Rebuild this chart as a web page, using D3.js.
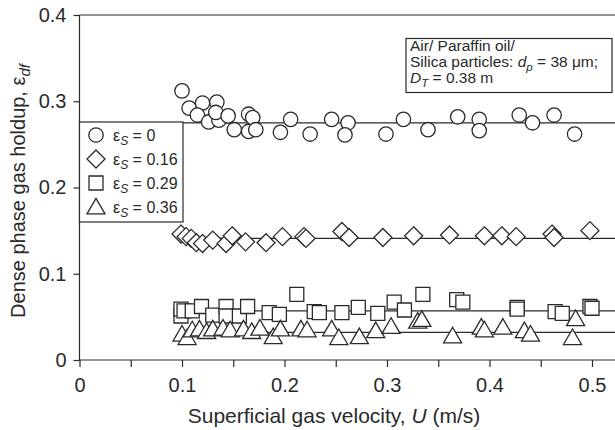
<!DOCTYPE html>
<html><head><meta charset="utf-8">
<script src="https://cdn.jsdelivr.net/npm/d3@7"></script>
<style>body{margin:0;background:#fff}svg{display:block;font-family:"Liberation Sans",Arial,sans-serif}</style>
</head><body><svg id="c" width="615" height="430"></svg>
<script>
// Data (U in m/s, dense phase gas holdup)
const circlesU = [0.100,0.107,0.120,0.115,0.134,0.126,0.136,0.133,0.145,0.151,0.165,0.169,0.165,0.172,0.196,0.206,0.225,0.246,0.262,0.259,0.299,0.316,0.340,0.369,0.390,0.390,0.429,0.442,0.463,0.483];
const circlesV = [0.312,0.292,0.298,0.284,0.299,0.276,0.278,0.287,0.283,0.267,0.285,0.281,0.265,0.267,0.264,0.279,0.262,0.279,0.275,0.261,0.262,0.279,0.267,0.282,0.279,0.266,0.284,0.275,0.284,0.262];
const diamondsU = [0.099,0.104,0.109,0.114,0.120,0.130,0.143,0.149,0.162,0.182,0.198,0.219,0.221,0.256,0.263,0.296,0.326,0.361,0.395,0.412,0.426,0.461,0.463,0.498];
const diamondsV = [0.146,0.143,0.141,0.136,0.135,0.139,0.135,0.144,0.137,0.136,0.143,0.143,0.141,0.149,0.142,0.142,0.144,0.145,0.144,0.144,0.143,0.146,0.142,0.150];
const squaresU = [0.099,0.099,0.102,0.110,0.119,0.130,0.143,0.143,0.156,0.164,0.185,0.195,0.212,0.229,0.234,0.256,0.272,0.291,0.307,0.317,0.335,0.368,0.374,0.427,0.427,0.464,0.471,0.498,0.500];
const squaresV = [0.051,0.059,0.057,0.057,0.062,0.052,0.062,0.051,0.051,0.062,0.055,0.053,0.076,0.056,0.055,0.055,0.061,0.054,0.067,0.058,0.076,0.070,0.067,0.061,0.059,0.056,0.054,0.062,0.060];
const trianglesU = [0.100,0.105,0.110,0.117,0.124,0.130,0.140,0.147,0.160,0.168,0.176,0.189,0.196,0.216,0.222,0.246,0.253,0.273,0.289,0.304,0.330,0.334,0.364,0.392,0.395,0.413,0.434,0.440,0.481,0.484];
const trianglesV = [0.030,0.026,0.035,0.036,0.033,0.036,0.037,0.035,0.036,0.033,0.037,0.027,0.036,0.036,0.035,0.036,0.026,0.027,0.034,0.039,0.045,0.047,0.028,0.038,0.035,0.038,0.034,0.030,0.026,0.048];
const fitLevels = [0.275, 0.141, 0.057, 0.032];
const legendLabels = ["0", "0.16", "0.29", "0.36"];
const xTicks = [0, 0.1, 0.2, 0.3, 0.4, 0.5];
const xMinorTicks = [0.05, 0.15, 0.25, 0.35, 0.45];
const yTicks = [0, 0.1, 0.2, 0.3, 0.4];

const svg = d3.select("#c");
const x = d3.scaleLinear().domain([0, 0.5]).range([79.5, 592]);
const y = d3.scaleLinear().domain([0, 0.4]).range([360, 15]);
const ink = "#2a2a2a";

const shapes = {
  circle: (r) => `M${r},0A${r},${r} 0 1,1 ${-r},0A${r},${r} 0 1,1 ${r},0Z`,
  diamond: (r) => `M0,${-r}L${r},0L0,${r}L${-r},0Z`,
  square: (r) => `M${-r},${-r}H${r}V${r}H${-r}Z`,
  triangle: (r) => `M0,${-r*1.05}L${r*1.1},${r*0.85}L${-r*1.1},${r*0.85}Z`
};
const shapeSize = {circle: 7.2, diamond: 9, square: 7, triangle: 8.2};
const shapeOrder = ["circle", "diamond", "square", "triangle"];

// frame top line
svg.append("line").attr("x1", x(0)).attr("x2", 615).attr("y1", y(0.4)).attr("y2", y(0.4))
  .attr("stroke", ink).attr("stroke-width", 1.2);

// axes
const gx = svg.append("g").attr("transform", `translate(0,${y(0)})`)
  .call(d3.axisBottom(x).tickValues(xTicks).tickSize(7).tickPadding(11).tickFormat(d => d === 0 ? "0" : d3.format(".1f")(d)));
gx.append("g").attr("class", "minor").call(d3.axisBottom(x).tickValues(xMinorTicks).tickSize(7).tickFormat(""));
const gy = svg.append("g").attr("transform", `translate(${x(0)},0)`)
  .call(d3.axisLeft(y).tickValues(yTicks).tickSize(6).tickPadding(7).tickFormat(d => d === 0 ? "0" : d3.format(".1f")(d)));
gx.select(".minor .domain").remove();
gx.select(".domain").attr("d", `M${x(0)},0H615`);
gy.select(".domain").attr("d", `M0,${y(0.4)}V${y(0)}`);
svg.selectAll(".domain").attr("stroke", ink).attr("stroke-width", 1.2);
svg.selectAll(".tick line").attr("stroke", ink).attr("stroke-width", 1.2);
svg.selectAll(".tick text").attr("fill", ink).attr("font-size", 20).attr("font-family", "Liberation Sans, Arial, sans-serif");

// axis titles
const xt = svg.append("text").attr("x", 334).attr("y", 423).attr("text-anchor", "middle")
  .attr("font-size", 21).attr("fill", ink);
xt.append("tspan").text("Superficial gas velocity, ");
xt.append("tspan").attr("font-style", "italic").text("U");
xt.append("tspan").text(" (m/s)");

const yt = svg.append("text").attr("transform", `translate(25,191) rotate(-90)`)
  .attr("text-anchor", "middle").attr("font-size", 20).attr("fill", ink);
yt.append("tspan").text("Dense phase gas holdup, ε");
yt.append("tspan").attr("font-style", "italic").attr("font-size", 15).attr("dy", 5).text("df");

// fit lines
svg.append("g").selectAll("line").data(fitLevels).join("line")
  .attr("x1", x(0.1)).attr("x2", 615)
  .attr("y1", d => y(d)).attr("y2", d => y(d))
  .attr("stroke", ink).attr("stroke-width", 1.3);

// markers
const series = [
  {shape: "circle", U: circlesU, V: circlesV},
  {shape: "diamond", U: diamondsU, V: diamondsV},
  {shape: "square", U: squaresU, V: squaresV},
  {shape: "triangle", U: trianglesU, V: trianglesV}
];
series.forEach(s => {
  svg.append("g").selectAll("path").data(s.U.map((u, i) => [u, s.V[i]])).join("path")
    .attr("transform", d => `translate(${x(d[0])},${y(d[1])})`)
    .attr("d", shapes[s.shape](shapeSize[s.shape]))
    .attr("fill", "#fff").attr("stroke", ink).attr("stroke-width", 1.3);
});

// legend
const lg = svg.append("g");
lg.append("rect").attr("x", x(0)).attr("y", 122).attr("width", 183 - x(0)).attr("height", 100)
  .attr("fill", "#fff").attr("stroke", ink).attr("stroke-width", 1.2);
shapeOrder.forEach((sh, i) => {
  const cy = 135 + i * 24;
  lg.append("path").attr("transform", `translate(96,${cy})`).attr("d", shapes[sh](shapeSize[sh]))
    .attr("fill", "#fff").attr("stroke", ink).attr("stroke-width", 1.3);
  const t = lg.append("text").attr("x", 113).attr("y", cy + 5.5).attr("font-size", 16).attr("fill", ink);
  t.append("tspan").text("ε");
  t.append("tspan").attr("font-style", "italic").attr("font-size", 12).attr("dy", 4).text("S");
  t.append("tspan").attr("dy", -4).text(" = " + legendLabels[i]);
});

// annotation
const an = svg.append("g");
an.append("rect").attr("x", 406).attr("y", 38.5).attr("width", 206).attr("height", 54)
  .attr("fill", "#fff").attr("stroke", ink).attr("stroke-width", 1.2);
an.append("text").attr("x", 410).attr("y", 51).attr("font-size", 15.5).attr("fill", ink).text("Air/ Paraffin oil/");
const a2 = an.append("text").attr("x", 410).attr("y", 67).attr("font-size", 15.5).attr("fill", ink);
a2.append("tspan").text("Silica particles: ");
a2.append("tspan").attr("font-style", "italic").text("d");
a2.append("tspan").attr("font-style", "italic").attr("font-size", 11.5).attr("dy", 4).text("p");
a2.append("tspan").attr("dy", -4).text(" = 38 μm;");
const a3 = an.append("text").attr("x", 410).attr("y", 83).attr("font-size", 15.5).attr("fill", ink);
a3.append("tspan").attr("font-style", "italic").text("D");
a3.append("tspan").attr("font-style", "italic").attr("font-size", 11.5).attr("dy", 4).text("T");
a3.append("tspan").attr("dy", -4).text(" = 0.38 m");
</script></body></html>
